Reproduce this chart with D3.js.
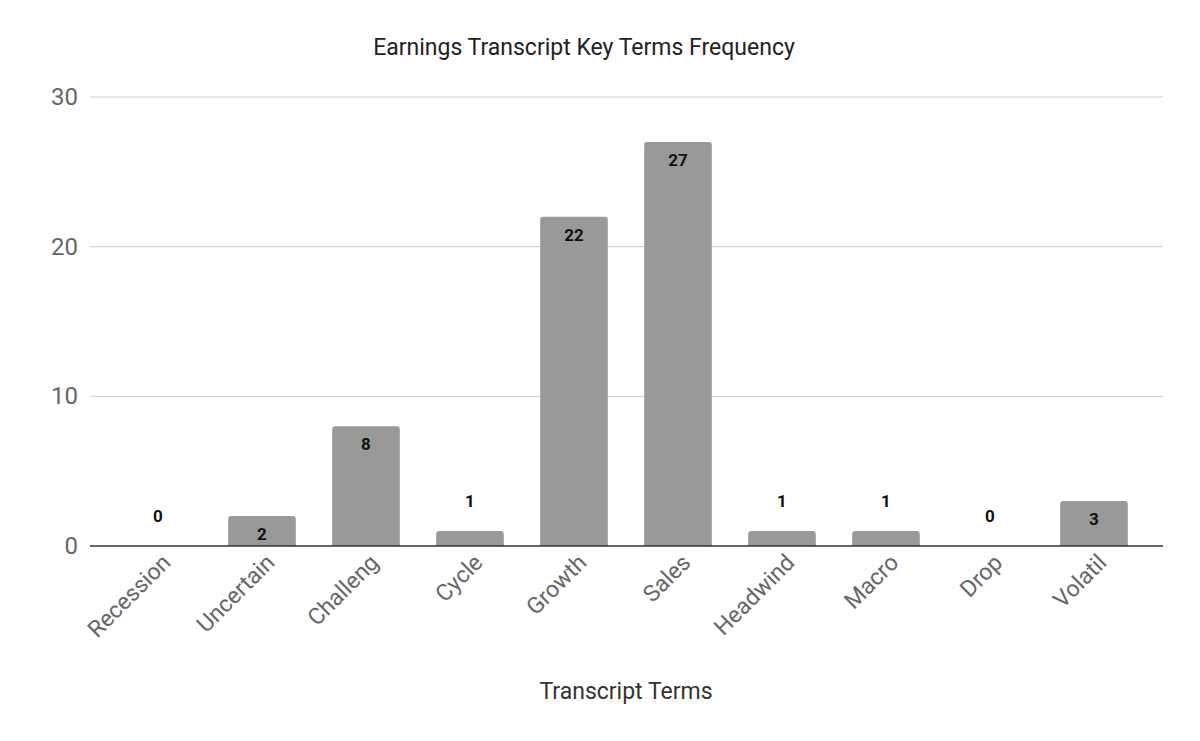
<!DOCTYPE html>
<html lang="en">
<head>
<meta charset="UTF-8" />
<title>Earnings Transcript Key Terms Frequency</title>
<script src="https://d3js.org/d3.v7.min.js"></script>
<style>
  body { margin: 0; font-family: Roboto, Arial, sans-serif; background: #fff; }
</style>
</head>
<body>
<svg width="1200" height="741"></svg>
<script>
  var terms = ['Recession', 'Uncertain', 'Challeng', 'Cycle', 'Growth', 'Sales', 'Headwind', 'Macro', 'Drop', 'Volatil'];
  var counts = [0, 2, 8, 1, 22, 27, 1, 1, 0, 3];
  var yTicks = [0, 10, 20, 30];

  var svg = d3.select('svg');
  var x = d3.scaleBand().domain(terms).range([106, 1146]).paddingInner(0.35).paddingOuter(0.175);
  var y = d3.scaleLinear().domain([0, 30]).range([546, 97]);

  svg.append('text').attr('x', 584).attr('y', 55).attr('text-anchor', 'middle')
    .attr('font-size', 23).attr('fill', '#222').text('Earnings Transcript Key Terms Frequency');

  // gridlines
  svg.selectAll('.grid').data(yTicks.filter(d => d > 0)).enter().append('line')
    .attr('x1', 90).attr('x2', 1163).attr('y1', d => y(d)).attr('y2', d => y(d))
    .attr('stroke', '#ccc').attr('stroke-width', 1);

  svg.selectAll('.ytick').data(yTicks).enter().append('text')
    .attr('x', 78).attr('y', d => y(d) + 8).attr('text-anchor', 'end')
    .attr('font-size', 24).attr('fill', '#666').text(d => d);

  // bars
  svg.selectAll('.bar').data(counts).enter().append('path')
    .attr('fill', '#999')
    .attr('d', function (d, i) {
      var x0 = x(terms[i]), w = x.bandwidth(), y0 = y(d), b = y(0), r = Math.min(3, b - y0);
      if (d === 0) return '';
      return 'M' + x0 + ',' + b + 'V' + (y0 + r) + 'Q' + x0 + ',' + y0 + ' ' + (x0 + r) + ',' + y0 +
        'H' + (x0 + w - r) + 'Q' + (x0 + w) + ',' + y0 + ' ' + (x0 + w) + ',' + (y0 + r) + 'V' + b + 'Z';
    });

  svg.selectAll('.val').data(counts).enter().append('text')
    .attr('x', (d, i) => x(terms[i]) + x.bandwidth() / 2)
    .attr('y', d => (y(0) - y(d) < 20 ? y(d) - 24 : y(d) + 24))
    .attr('text-anchor', 'middle').attr('font-size', 17).attr('font-weight', 'bold')
    .attr('fill', '#111').text(d => d);

  svg.append('line').attr('x1', 90).attr('x2', 1163).attr('y1', y(0)).attr('y2', y(0))
    .attr('stroke', '#333').attr('stroke-width', 1.5);

  svg.selectAll('.xlab').data(terms).enter().append('text')
    .attr('transform', d => 'translate(' + (x(d) + x.bandwidth() / 2 + 14) + ',' + 564 + ') rotate(-45)')
    .attr('text-anchor', 'end').attr('font-size', 23).attr('fill', '#666').text(d => d);

  svg.append('text').attr('x', 626).attr('y', 699).attr('text-anchor', 'middle')
    .attr('font-size', 23).attr('fill', '#333').text('Transcript Terms');
</script>
</body>
</html>
